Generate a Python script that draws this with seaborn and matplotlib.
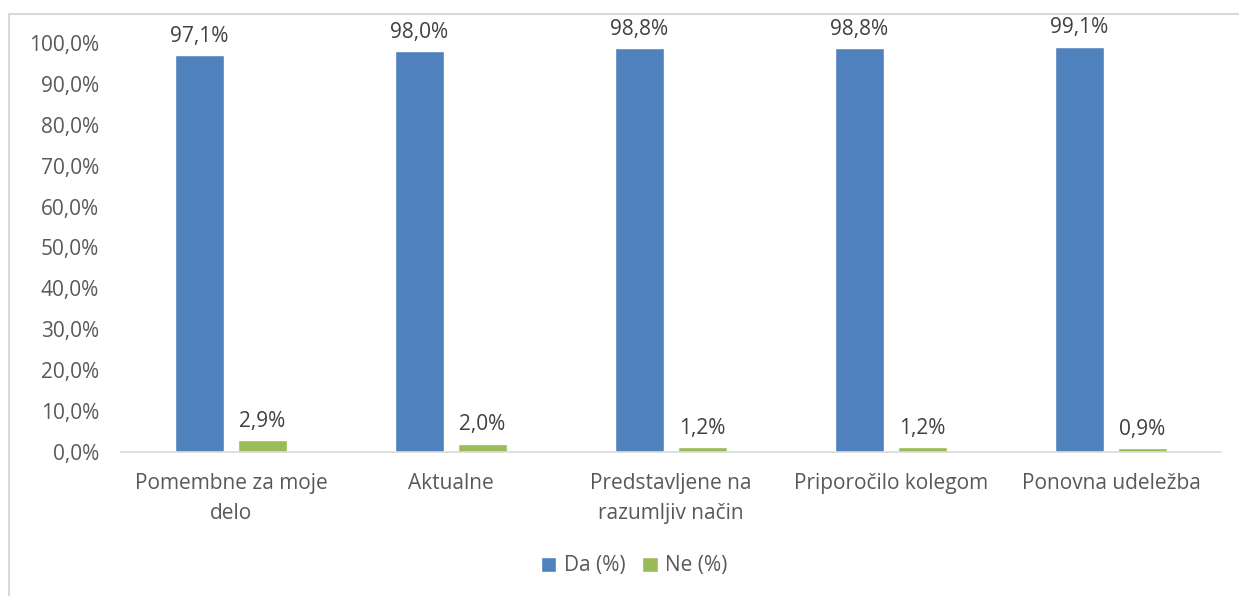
import matplotlib
matplotlib.use("Agg")
import matplotlib.pyplot as plt
import pandas as pd
import seaborn as sns
from matplotlib.patches import Rectangle

categories = ["Pomembne za moje\ndelo", "Aktualne", "Predstavljene na\nrazumljiv način",
              "Priporočilo kolegom", "Ponovna udeležba"]
da = [97.1, 98.0, 98.8, 98.8, 99.1]
ne = [2.9, 2.0, 1.2, 1.2, 0.9]
series = ["Da (%)", "Ne (%)"]
yticks = [0, 10, 20, 30, 40, 50, 60, 70, 80, 90, 100]

df = pd.DataFrame({
    "cat": categories * 2,
    "val": da + ne,
    "serie": [series[0]] * len(da) + [series[1]] * len(ne),
})

sns.set_theme(style="white")
plt.rcParams["font.family"] = ["Open Sans", "DejaVu Sans"]

fig = plt.figure(figsize=(12.39, 5.96), dpi=100)
ax = fig.add_axes([0.0977, 0.2416, 0.8878, 0.6863])

# light frame like the excel chart area
fig.patches.append(Rectangle((9 / 1239, -0.01), 1.02, (596 - 14) / 596 + 0.01,
                             transform=fig.transFigure, fill=False,
                             edgecolor="#d9d9d9", linewidth=1.5))

sns.barplot(data=df, x="cat", y="val", hue="serie", order=categories,
            palette=["#4F81BD", "#9BBB59"], width=0.573, gap=0.222,
            saturation=1, ax=ax)

for cont in ax.containers:
    ax.bar_label(cont, labels=[f"{v:.1f}%".replace(".", ",") for v in cont.datavalues],
                 padding=6, fontsize=15, color="#404040")

ax.set_ylim(0, 100)
ax.set_yticks(yticks)
ax.set_yticklabels([f"{t:.1f}%".replace(".", ",") for t in yticks])
ax.set_xlabel("")
ax.set_ylabel("")
ax.tick_params(axis="both", length=0, labelsize=15, labelcolor="#595959")
ax.tick_params(axis="x", pad=15)
ax.tick_params(axis="y", pad=16)
for lbl in ax.get_xticklabels():
    lbl.set_linespacing(1.6)
for s in ["top", "right", "left"]:
    ax.spines[s].set_visible(False)
ax.spines["bottom"].set_color("#d9d9d9")
ax.spines["bottom"].set_linewidth(1.2)

ax.legend(loc="center", bbox_to_anchor=(634 / 1239, 30 / 596),
          bbox_transform=fig.transFigure, ncol=2, frameon=False, fontsize=15,
          handlelength=0.75, handleheight=0.75, handletextpad=0.35, columnspacing=0.8,
          labelcolor="#595959")

fig.savefig("out.png", dpi=100)
